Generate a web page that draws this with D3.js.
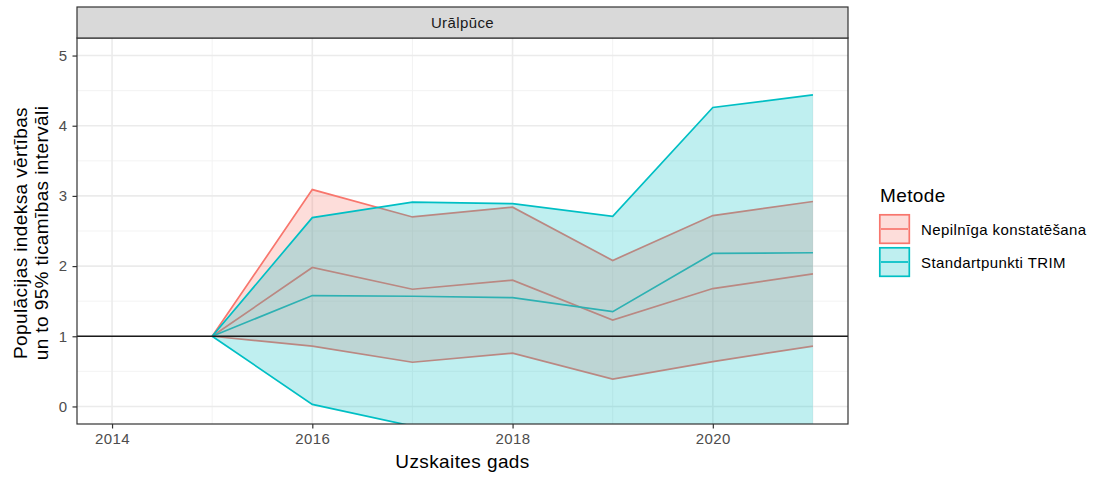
<!DOCTYPE html>
<html>
<head>
<meta charset="utf-8">
<script src="https://cdn.jsdelivr.net/npm/d3@7"></script>
<style>
  body { margin: 0; background: #fff; }
  text { font-family: "Liberation Sans", Arial, sans-serif; letter-spacing: 0.4px; }
</style>
</head>
<body>
<script>
//Data
var years = [2015, 2016, 2017, 2018, 2019, 2020, 2021];
var methods = ["Nepilnīga konstatēšana", "Standartpunkti TRIM"];
var colors = ["#F8766D", "#00BFC4"];

//Nepilnīga konstatēšana
var nkMean  = [1, 1.98, 1.67, 1.80, 1.23, 1.68, 1.89];
var nkUpper = [1, 3.09, 2.70, 2.84, 2.08, 2.72, 2.92];
var nkLower = [1, 0.86, 0.63, 0.76, 0.39, 0.64, 0.86];

//Standartpunkti TRIM
var trMean  = [1, 1.58, 1.57, 1.55, 1.35, 2.18, 2.19];
var trUpper = [1, 2.69, 2.91, 2.89, 2.71, 4.26, 4.44];
var trLower = [1, 0.03, -0.28, -0.45, -0.85, -0.6, -0.7];

var xTicks = [2014, 2016, 2018, 2020];
var yTicks = [0, 1, 2, 3, 4, 5];
var refLine = 1;

var series = [
  {name: methods[0], color: colors[0], mean: nkMean, upper: nkUpper, lower: nkLower},
  {name: methods[1], color: colors[1], mean: trMean, upper: trUpper, lower: trLower}
];

//Width and height
var w = 1099;
var h = 479;
var panel = {left: 77, right: 848, top: 38, bottom: 424};

var x = d3.scaleLinear().domain([2013.65, 2021.35]).range([panel.left, panel.right]);
var y = d3.scaleLinear().domain([-0.25, 5.25]).range([panel.bottom, panel.top]);

var svg = d3.select("body").append("svg")
    .attr("width", w)
    .attr("height", h);

svg.append("clipPath").attr("id", "clip")
  .append("rect")
    .attr("x", panel.left).attr("y", panel.top)
    .attr("width", panel.right - panel.left)
    .attr("height", panel.bottom - panel.top);

//Grid lines (minor then major)
var grid = svg.append("g");
var xMinor = [2015, 2017, 2019, 2021];
var yMinor = [0.5, 1.5, 2.5, 3.5, 4.5];

grid.selectAll(".xmin").data(xMinor).enter().append("line")
    .attr("x1", d => x(d)).attr("x2", d => x(d))
    .attr("y1", panel.top).attr("y2", panel.bottom)
    .attr("stroke", "#F2F2F2").attr("stroke-width", 0.9);
grid.selectAll(".ymin").data(yMinor).enter().append("line")
    .attr("x1", panel.left).attr("x2", panel.right)
    .attr("y1", d => y(d)).attr("y2", d => y(d))
    .attr("stroke", "#F2F2F2").attr("stroke-width", 0.9);
grid.selectAll(".xmaj").data(xTicks).enter().append("line")
    .attr("x1", d => x(d)).attr("x2", d => x(d))
    .attr("y1", panel.top).attr("y2", panel.bottom)
    .attr("stroke", "#EBEBEB").attr("stroke-width", 1.6);
grid.selectAll(".ymaj").data(yTicks).enter().append("line")
    .attr("x1", panel.left).attr("x2", panel.right)
    .attr("y1", d => y(d)).attr("y2", d => y(d))
    .attr("stroke", "#EBEBEB").attr("stroke-width", 1.6);

var plot = svg.append("g").attr("clip-path", "url(#clip)");

var line = d3.line().x(d => x(d[0])).y(d => y(d[1]));
var area = d3.area().x(d => x(d[0])).y0(d => y(d[1])).y1(d => y(d[2]));

//Mean lines first
series.forEach(function(s) {
  plot.append("path")
      .datum(years.map((yr, i) => [yr, s.mean[i]]))
      .attr("d", line)
      .attr("fill", "none")
      .attr("stroke", s.color)
      .attr("stroke-width", 1.7);
});

//Ribbons with outlines
series.forEach(function(s) {
  plot.append("path")
      .datum(years.map((yr, i) => [yr, s.lower[i], s.upper[i]]))
      .attr("d", area)
      .attr("fill", s.color)
      .attr("fill-opacity", 0.25);
  [s.upper, s.lower].forEach(function(vals) {
    plot.append("path")
        .datum(years.map((yr, i) => [yr, vals[i]]))
        .attr("d", line)
        .attr("fill", "none")
        .attr("stroke", s.color)
        .attr("stroke-width", 1.7);
  });
});

//Reference line
plot.append("line")
    .attr("x1", panel.left).attr("x2", panel.right)
    .attr("y1", y(refLine)).attr("y2", y(refLine))
    .attr("stroke", "#1a1a1a").attr("stroke-width", 1.7);

//Panel border
svg.append("rect")
    .attr("x", panel.left).attr("y", panel.top)
    .attr("width", panel.right - panel.left)
    .attr("height", panel.bottom - panel.top)
    .attr("fill", "none").attr("stroke", "#333333").attr("stroke-width", 1.2);

//Strip
svg.append("rect")
    .attr("x", panel.left).attr("y", 7)
    .attr("width", panel.right - panel.left)
    .attr("height", panel.top - 7)
    .attr("fill", "#D9D9D9").attr("stroke", "#333333").attr("stroke-width", 1.2);
svg.append("text")
    .attr("x", (panel.left + panel.right) / 2).attr("y", 28)
    .attr("text-anchor", "middle")
    .attr("font-size", "15px").attr("fill", "#1A1A1A")
    .text("Urālpūce");

//Axes
var xAxis = svg.append("g")
    .attr("transform", "translate(0," + panel.bottom + ")")
    .call(d3.axisBottom(x).tickValues(xTicks).tickFormat(d3.format("d")).tickSize(4.5).tickPadding(5));
var yAxis = svg.append("g")
    .attr("transform", "translate(" + panel.left + ",0)")
    .call(d3.axisLeft(y).tickValues(yTicks).tickFormat(d3.format("d")).tickSize(4.5).tickPadding(5));

[xAxis, yAxis].forEach(function(a) {
  a.select(".domain").remove();
  a.selectAll(".tick line").attr("stroke", "#333333").attr("stroke-width", 1.2);
  a.selectAll(".tick text")
      .attr("fill", "#4D4D4D")
      .style("font-size", "15px")
      .style("font-family", "'Liberation Sans', Arial, sans-serif");
});

//Axis titles
svg.append("text")
    .attr("x", (panel.left + panel.right) / 2).attr("y", 468)
    .attr("text-anchor", "middle")
    .attr("font-size", "19px").attr("fill", "#000")
    .text("Uzskaites gads");

var yTitle = svg.append("text")
    .attr("transform", "translate(0," + ((panel.top + panel.bottom) / 2 + 2) + ") rotate(-90)")
    .attr("text-anchor", "middle")
    .attr("font-size", "19px").attr("fill", "#000");
yTitle.append("tspan").attr("x", 0).attr("y", 27).text("Populācijas indeksa vērtības");
yTitle.append("tspan").attr("x", 0).attr("y", 48).text("un to 95% ticamības intervāli");

//Legend
var legend = svg.append("g").attr("transform", "translate(879,0)");
legend.append("text")
    .attr("x", 1).attr("y", 202)
    .attr("font-size", "19px").attr("fill", "#000")
    .text("Metode");

var keys = legend.selectAll(".key").data(series).enter().append("g")
    .attr("transform", (d, i) => "translate(0," + (214 + i * 33) + ")");
keys.append("rect")
    .attr("x", 0.8).attr("y", 0.8)
    .attr("width", 29.5).attr("height", 28.5)
    .attr("fill", d => d.color).attr("fill-opacity", 0.25)
    .attr("stroke", d => d.color).attr("stroke-width", 1.7);
keys.append("line")
    .attr("x1", 2).attr("x2", 29)
    .attr("y1", 15).attr("y2", 15)
    .attr("stroke", d => d.color).attr("stroke-width", 1.7);
keys.append("text")
    .attr("x", 42).attr("y", 20.5)
    .attr("font-size", "15px").attr("fill", "#000")
    .text(d => d.name);
</script>
</body>
</html>
